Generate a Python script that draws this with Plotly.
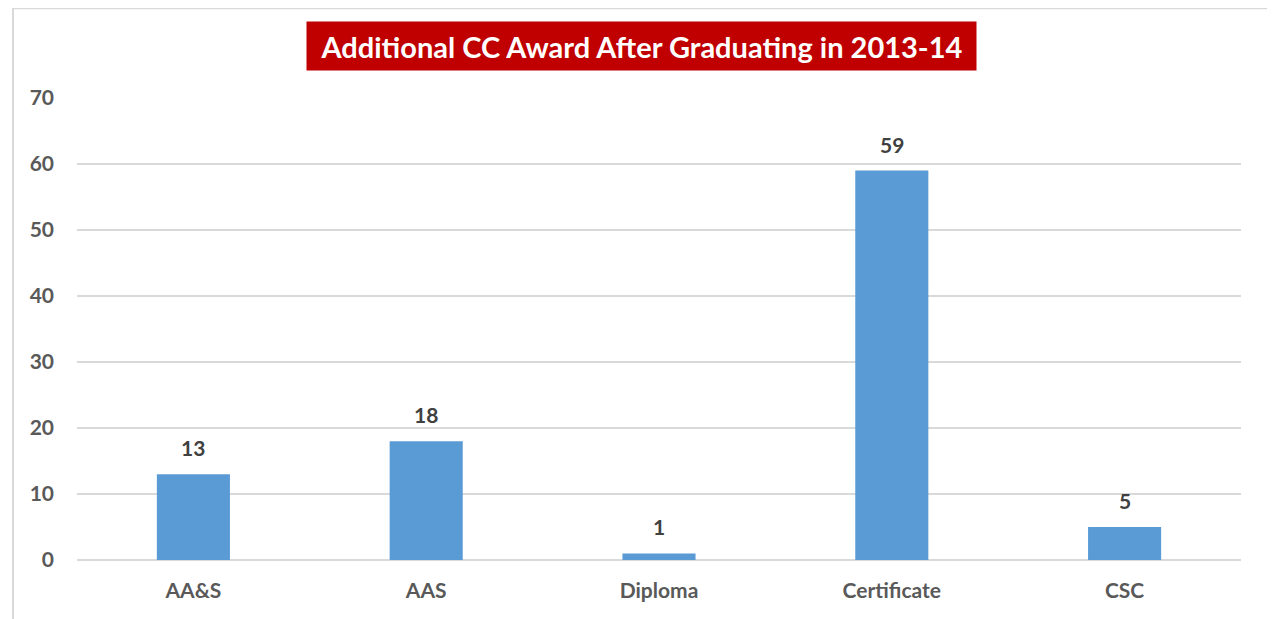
import plotly.graph_objects as go

categories = ["AA&S", "AAS", "Diploma", "Certificate", "CSC"]
values = [13, 18, 1, 59, 5]
y_ticks = [0, 10, 20, 30, 40, 50, 60, 70]
title_text = "Additional CC Award After Graduating in 2013-14"

FONT = "Lato"
# browser body has 8px default margin; compensate so plot area sits at screen x 77-1241, y 98-560
OFF = 8
W, H = 1275 - OFF, 619 - OFF
ML, MR, MT, MB = 77 - OFF, 34, 98 - OFF, 59

fig = go.Figure()
fig.add_trace(go.Bar(
    x=categories, y=values,
    marker=dict(color="#5B9BD5", line=dict(width=0)),
    hoverinfo="x+y",
))

annotations = []
for c, v in zip(categories, values):
    annotations.append(dict(
        x=c, y=v, xref="x", yref="y", text=str(v), showarrow=False,
        yanchor="bottom", yshift=12,
        font=dict(family=FONT, size=21, color="#404040", weight="bold"),
    ))
annotations.append(dict(
    x=0.485, y=1.1126, xref="paper", yref="paper", xanchor="center", yanchor="middle",
    text=title_text, showarrow=False,
    bgcolor="#C00000", width=667, height=46,
    font=dict(family=FONT, size=29, color="white", weight="bold"),
))

fig.update_layout(
    width=W, height=H,
    margin=dict(l=ML, r=MR, t=MT, b=MB, pad=0),
    paper_bgcolor="white", plot_bgcolor="white",
    showlegend=False,
    bargap=0.686,
    annotations=annotations,
    shapes=[dict(type="rect", xref="paper", yref="paper",
                 x0=-0.055, x1=1.0258, y0=-0.3, y1=1.194,
                 line=dict(color="#D9D9D9", width=2), fillcolor="rgba(0,0,0,0)",
                 layer="below")],
    xaxis=dict(
        showgrid=False, showline=False, zeroline=False,
        tickfont=dict(family=FONT, size=21, color="#595959", weight="bold"),
        ticklabelstandoff=16,
    ),
    yaxis=dict(
        range=[0, 70], tickvals=y_ticks,
        showgrid=True, gridcolor="#D9D9D9", gridwidth=1.5,
        zeroline=True, zerolinecolor="#D9D9D9", zerolinewidth=1.5,
        showline=False,
        tickfont=dict(family=FONT, size=21, color="#595959", weight="bold"),
        ticklabelstandoff=22,
    ),
)

fig.write_html("out.html")
